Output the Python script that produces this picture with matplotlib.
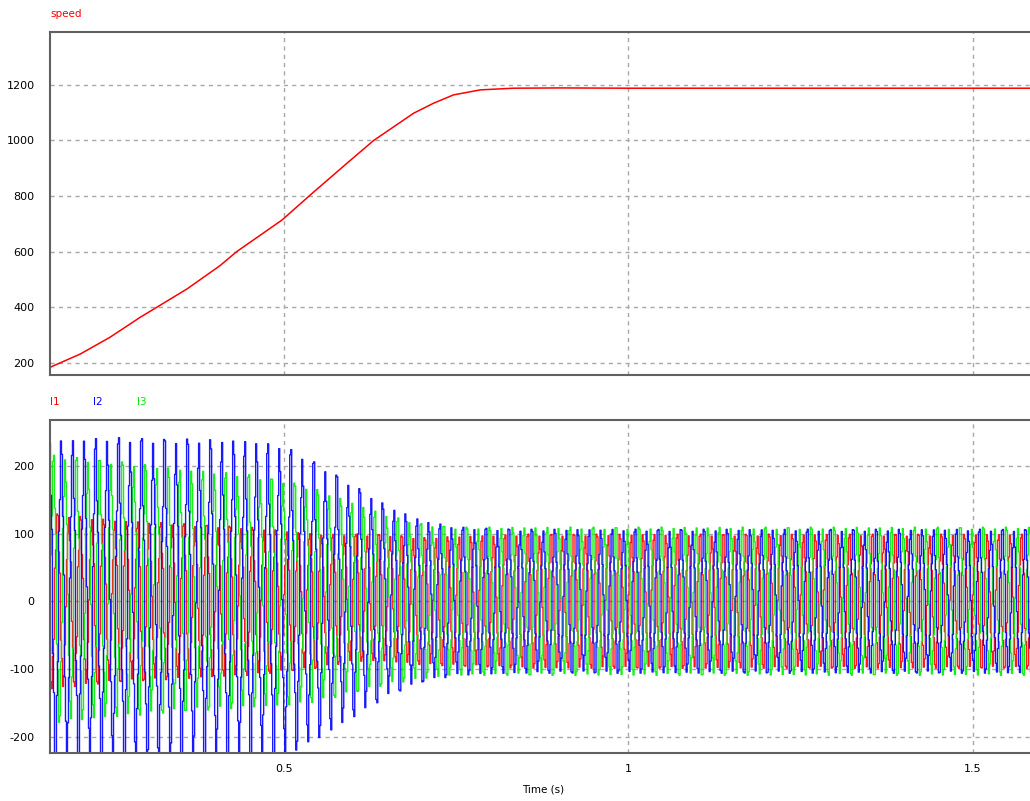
import matplotlib
matplotlib.use('Agg')
import matplotlib.pyplot as plt
import numpy as np

# speed trace (t in s, rpm)
t_speed = [0.160, 0.204, 0.247, 0.291, 0.315, 0.359, 0.407, 0.431, 0.497, 0.538,
           0.594, 0.630, 0.688, 0.717, 0.746, 0.785, 0.833, 0.900, 1.000, 1.200,
           1.400, 1.584]
speed = [184, 232, 292, 364, 400, 466, 550, 600, 714, 804,
         924, 1000, 1098, 1134, 1164, 1182, 1188, 1189, 1188, 1188,
         1188, 1188]

# phase current envelopes
t_env = [0.16, 0.25, 0.35, 0.45, 0.50, 0.55, 0.60, 0.65, 0.70, 0.75, 0.85, 1.0, 1.3, 1.584]
amp_i1 = [125, 115, 110, 105, 100, 95, 90, 90, 90, 92, 95, 95, 95, 95]
amp_i2 = [228, 232, 230, 228, 220, 195, 165, 135, 115, 105, 102, 102, 102, 102]
amp_i3 = [190, 182, 172, 165, 160, 150, 135, 120, 110, 105, 105, 105, 105, 105]
off_i1 = [0, 0, 0, 0, 0, 0, 5, 5, 0, 0, 0, 0, 0, 0]
off_i2 = [0, 0, 0, 0, 0, 0, 0, 0, 0, 0, 0, 0, 0, 0]
off_i3 = [18, 18, 16, 15, 12, 8, 5, 2, 0, 0, 0, 0, 0, 0]
f_supply = 60.0           # Hz
harmonics = {5: 0.10, 7: 0.06, 11: 0.03}   # share of fundamental
dt_view = 1 / 688.0       # one screen column of the scope

t = np.arange(0.16, 1.585, dt_view)
phase = 2 * np.pi * f_supply * t


def phase_current(amp, off, shift):
    a = np.interp(t, t_env, amp)
    o = np.interp(t, t_env, off)
    th = phase - shift
    wave = np.sin(th)
    for n, k in harmonics.items():
        wave = wave + k * np.sin(n * th)
    return o + a * wave


i1 = phase_current(amp_i1, off_i1, 0.0)
i2 = phase_current(amp_i2, off_i2, 2 * np.pi / 3)
i3 = phase_current(amp_i3, off_i3, 4 * np.pi / 3)

fig = plt.figure(figsize=(10.30, 8.01), dpi=100)
ax1 = fig.add_axes([0.0485, 0.532, 0.9515, 0.428])
ax2 = fig.add_axes([0.0485, 0.060, 0.9515, 0.416])

for ax in (ax1, ax2):
    ax.set_xlim(0.160, 1.583)
    ax.set_xticks([0.5, 1, 1.5])
    ax.grid(True, color='#a8a8a8', linestyle=(0, (3, 3)), linewidth=1.0)
    ax.tick_params(length=0, pad=11, labelsize=8)
    for s in ('left', 'top', 'bottom'):
        ax.spines[s].set_color('#606060')
        ax.spines[s].set_linewidth(1.5)
    ax.spines['right'].set_visible(False)
    ax.set_axisbelow(True)

ax1.plot(t_speed, speed, color='#ff0000', lw=1.1)
ax1.set_ylim(157, 1390)
ax1.set_yticks([200, 400, 600, 800, 1000, 1200])
ax1.set_xticklabels([])

for y, c in ((i1, '#ff0000'), (i3, '#00ee00'), (i2, '#0000ff')):
    ax2.plot(t, y, color=c, lw=1.0, drawstyle='steps-mid', alpha=0.9)
ax2.set_ylim(-224, 268)
ax2.set_yticks([-200, -100, 0, 100, 200])
ax2.set_yticklabels(['-200', '-100', '0', '100', '200'])
ax2.set_xticklabels(['0.5', '1', '1.5'])
ax2.tick_params(axis='x', pad=8)

fig.text(50 / 1030, 1 - 14 / 801, 'speed', color='#ff0000', fontsize=7.5, va='center')
fig.text(50 / 1030, 1 - 402 / 801, 'I1', color='#ff0000', fontsize=7.5, va='center')
fig.text(93 / 1030, 1 - 402 / 801, 'I2', color='#0000ff', fontsize=7.5, va='center')
fig.text(137 / 1030, 1 - 402 / 801, 'I3', color='#00ee00', fontsize=7.5, va='center')
fig.text(543 / 1030, 1 - 790 / 801, 'Time (s)', color='black', fontsize=7.5,
         ha='center', va='center')

fig.savefig('out.png', dpi=100)
